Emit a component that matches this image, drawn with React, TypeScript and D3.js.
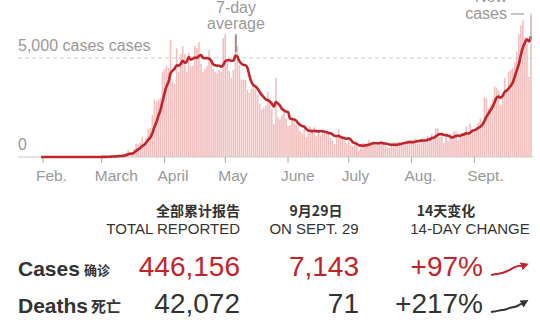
import React from "react";
import * as d3 from "d3";

// Daily new cases (reported), Jan 31 – Sep 29, 2020
const casesJan = [2];
const casesFeb = [0,0,0,0,0,1,0,0,1,4, 1,0,0,0,0,0,0,0,0,0, 0,0,0,0,4,0,3,5,3];
const casesMar = [12,4,11,34,30,48,43,67,48,61, 77,134,208,342,250,152,407,676,643,714, 1035,665,967,1427,1452,2129,2900,2800,2900,3000, 4300];
const casesApr = [4450,4600,4500,5900,3800,3700,5500,4300,5200,5600, 5200,4300,5250,4600,4600,5600,5500,5800,4700,4300, 4450,4600,5400,4900,4450,4300,4200,4400,4300,6000];
const casesMay = [6200,4800,4350,4000,4400,6100,5600,4650,3900,3900, 3900,3400,3250,3450,3550,3450,3150,2700,2400,2500, 2600,3300,2950,2400,1650,4000,2000,1900,2100,2450, 1950];
const casesJun = [1550,1600,1850,1800,1650,1550,1300,1200,1400,1000, 1250,1550,1400,1500,1050,1300,1100,1200,1350,1300, 1200,950,870,650,1100,1400,900,900,800,700];
const casesJul = [830,580,540,620,520,350,650,700,700,650, 850,700,650,600,700,700,800,700,600,500, 450,550,750,750,750,750,700,600,750,850, 850];
const casesAug = [750,750,940,670,890,950,870,760,1060,1000, 1150,1000,1450,1440,1000,1050,700,1100,800,1180, 1050,1300,1300,850,1000,1200,1250,1550,1100,1700, 1400];
const casesSep = [1300,1500,1750,1950,1800,3000,2950,2450,2650,2900, 3550,3500,3350,2600,3100,4000,3400,4300,4400,4500, 4800,5300,6200,6650,6900,6050,5700,4050,7143];

const monthTicks = ["2020-02-01","2020-03-01","2020-04-01","2020-05-01","2020-06-01","2020-07-01","2020-08-01","2020-09-01"];
const monthLabels = ["Feb.","March","April","May","June","July","Aug.","Sept."];

// 7-day average of deaths over the last 14 days (sparkline)
const deathsTrend = [20, 21, 21, 23, 24, 24, 25, 27, 29, 30, 31, 33, 36, 38, 41];

const headers = [
  { zh: "全部累计报告", en: "TOTAL REPORTED" },
  { zh: "9月29日", en: "ON SEPT. 29" },
  { zh: "14天变化", en: "14-DAY CHANGE" },
];
const rowLabels = [
  { en: "Cases", zh: "确诊" },
  { en: "Deaths", zh: "死亡" },
];
const totals = ["446,156", "42,072"];
const onDay = ["7,143", "71"];
const changes = ["+97%", "+217%"];

const RED = "#c0252b";
const DARK = "#333";
const GRAY = "#999";
const FONT = "'Liberation Sans', Arial, sans-serif";
const CJK = "'Noto Sans CJK SC', sans-serif";

export default function App() {
  const daily = [...casesJan, ...casesFeb, ...casesMar, ...casesApr, ...casesMay, ...casesJun, ...casesJul, ...casesAug, ...casesSep];
  const start = new Date(2020, 0, 31);
  const data = daily.map((v, i) => ({ date: d3.timeDay.offset(start, i), v }));
  const avg = data.map((d, i) => {
    const w = daily.slice(Math.max(0, i - 6), i + 1);
    return { date: d.date, v: d3.mean(w) as number };
  });

  const x = d3.scaleTime().domain([new Date(2020, 1, 1), new Date(2020, 8, 29)]).range([43, 531]);
  const y = d3.scaleLinear().domain([0, 5000]).range([157, 58]);
  const bw = x(new Date(2020, 1, 2)) - x(new Date(2020, 1, 1));

  const line = d3.line<{ date: Date; v: number }>().x(d => x(d.date)).y(d => y(d.v)).curve(d3.curveMonotoneX);

  const casesTrend = avg.slice(-15).map(d => d.v);
  const sx = d3.scaleLinear().domain([0, 14]).range([491, 525]);
  const syC = d3.scaleLinear().domain(d3.extent(casesTrend) as [number, number]).range([275, 265]);
  const syD = d3.scaleLinear().domain(d3.extent(deathsTrend) as [number, number]).range([312, 302]);
  const spark = (arr: number[], sy: d3.ScaleLinear<number, number>) =>
    d3.line<number>().x((_, i) => sx(i)).y(d => sy(d)).curve(d3.curveBasis)(arr) as string;

  const colX = [240, 359, 483];
  const hdrZhX = [240, 316, 446];
  const hdrEnX = [240, 314, 470];
  const hdrAnchor = ["end", "middle", "middle"];
  const rowY = [276, 313];

  return (
    <svg width={540} height={320} style={{ position: "absolute", left: 0, top: 0, background: "#fff" }} fontFamily={FONT}>
      <defs>
        <marker id="arR" viewBox="0 0 10 10" refX="5" refY="5" markerWidth="4" markerHeight="4" orient="auto">
          <path d="M0,0 L10,5 L0,10 z" fill={RED} />
        </marker>
        <marker id="arD" viewBox="0 0 10 10" refX="5" refY="5" markerWidth="4" markerHeight="4" orient="auto">
          <path d="M0,0 L10,5 L0,10 z" fill={DARK} />
        </marker>
      </defs>

      {/* bars */}
      {data.map((d, i) => (
        <rect key={i} x={x(d.date) - bw / 2 + 0.2} width={Math.max(0.5, bw - 0.4)} y={y(d.v)} height={y(0) - y(d.v)} fill="#f3bfbf" />
      ))}

      {/* gridlines */}
      <line x1={18} x2={531} y1={y(5000)} y2={y(5000)} stroke="#ccc" strokeDasharray="4,3" strokeWidth={1} />
      <line x1={18} x2={533} y1={y(0)} y2={y(0)} stroke="#ccc" strokeWidth={1} />
      <text x={18} y={y(5000) - 7} fontSize={16} fill={GRAY}>5,000 cases cases</text>
      <text x={18} y={y(0) - 7} fontSize={16} fill={GRAY}>0</text>

      {/* x axis */}
      {monthTicks.map((t, i) => {
        const px = x(new Date(t + "T00:00:00"));
        return (
          <g key={t}>
            <line x1={px} x2={px} y1={y(0)} y2={y(0) + 6} stroke="#aaa" />
            <text x={px - 7} y={181} fontSize={15.5} fill={GRAY}>{monthLabels[i]}</text>
          </g>
        );
      })}

      {/* average line */}
      <path d={line(avg) as string} fill="none" stroke={RED} strokeWidth={2.6} strokeLinejoin="round" />

      {/* annotations */}
      <text x={236} y={13} fontSize={16} fill={GRAY} textAnchor="middle">7-day</text>
      <text x={236} y={29} fontSize={16} fill={GRAY} textAnchor="middle">average</text>
      <line x1={236} x2={236} y1={34} y2={52} stroke="#555" strokeWidth={1} />
      <text x={507} y={2} fontSize={16} fill={GRAY} textAnchor="end">New</text>
      <text x={507} y={19} fontSize={16} fill={GRAY} textAnchor="end">cases</text>
      <line x1={511} x2={524} y1={14} y2={14} stroke={GRAY} strokeWidth={1.2} />
      <line x1={531} x2={531} y1={13} y2={40} stroke="#bbb" strokeWidth={1} />

      {/* table headers */}
      {headers.map((h, i) => (
        <g key={i}>
          <text x={hdrZhX[i]} y={216} fontSize={14} fontWeight={700} fontFamily={CJK} fill={DARK} textAnchor={hdrAnchor[i] as any}>{h.zh}</text>
          <text x={hdrEnX[i]} y={234} fontSize={15} fill={DARK} textAnchor={hdrAnchor[i] as any}>{h.en}</text>
        </g>
      ))}

      {/* rows */}
      {rowLabels.map((r, i) => (
        <g key={i}>
          <text x={18} y={rowY[i]} fontSize={21} fontWeight={700} fill={DARK}>{r.en}</text>
          <text x={i === 0 ? 84 : 91} y={rowY[i] - 1} fontSize={i === 0 ? 13 : 15} fontWeight={700} fontFamily={CJK} fill={DARK}>{r.zh}</text>
          <text x={colX[0]} y={rowY[i]} fontSize={28} fill={i === 0 ? RED : DARK} textAnchor="end">{totals[i]}</text>
          <text x={colX[1]} y={rowY[i]} fontSize={28} fill={i === 0 ? RED : DARK} textAnchor="end">{onDay[i]}</text>
          <text x={colX[2]} y={rowY[i]} fontSize={28} fill={i === 0 ? RED : DARK} textAnchor="end">{changes[i]}</text>
        </g>
      ))}

      {/* sparklines */}
      <path d={spark(casesTrend, syC)} fill="none" stroke={RED} strokeWidth={2} markerEnd="url(#arR)" />
      <path d={spark(deathsTrend, syD)} fill="none" stroke={DARK} strokeWidth={2} markerEnd="url(#arD)" />
    </svg>
  );
}
